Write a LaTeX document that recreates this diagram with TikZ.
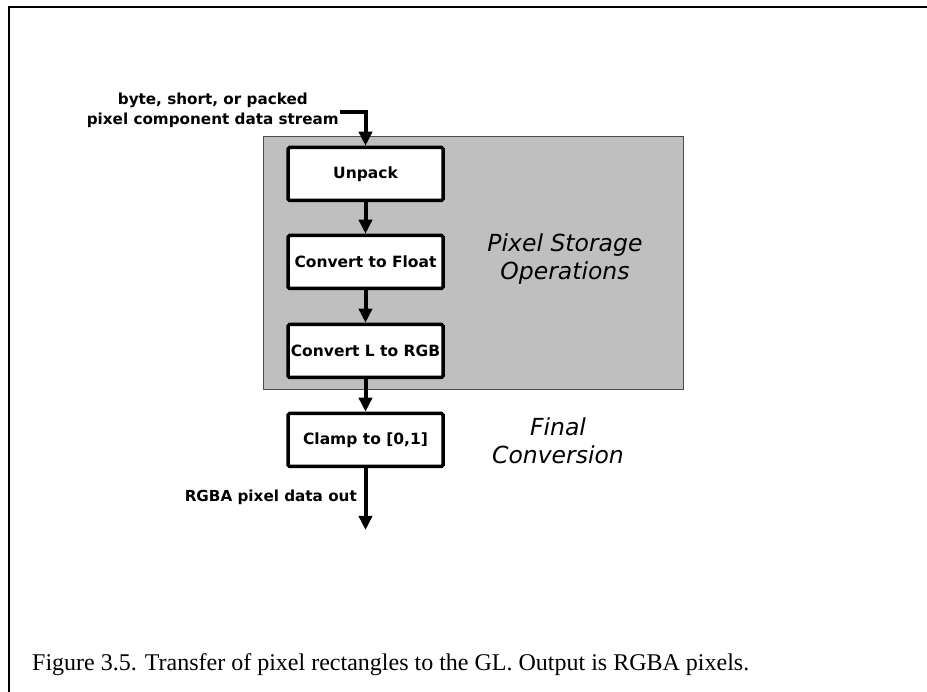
\documentclass[tikz,border=0pt]{standalone}
\usepackage{fontspec}
\setmainfont{Liberation Serif}
\setsansfont{DejaVu Sans}
\usepackage{tikz}
\usetikzlibrary{arrows.meta,positioning}
\colorlet{StoreGray}{black!25}

\tikzset{
  opbox/.style={draw, line width=3.5pt, rounded corners=1.5pt, fill=white,
    minimum width=155pt, minimum height=53pt, inner sep=0pt,
    font=\sffamily\bfseries\fontsize{15.5}{18}\selectfont},
  flow/.style={line width=4pt, -{Triangle[length=14pt,width=13pt]}},
  stagelabel/.style={align=center, font=\sffamily\itshape\fontsize{23.5}{28}\selectfont},
  streamlabel/.style={align=center, inner sep=0pt, font=\sffamily\bfseries\fontsize{15.2}{20}\selectfont},
}

\begin{document}
\begin{tikzpicture}[x=1pt,y=-1pt]
    \useasboundingbox (0,0) rectangle (927,692);
    \draw[line width=1.5pt] (9,692) -- (9,7) -- (927,7);

%   storage stage
    \node[draw=black!70, fill=StoreGray, minimum width=420pt, minimum height=253pt, inner sep=0pt] (storage) at (473,262.5) {};
    \node[stagelabel] (storagetxt) at (565,259) {Pixel Storage\\Operations};
    \node[stagelabel] (finaltxt) at (558,441) {Final\\Conversion};

%   operations
    \node[opbox] (unpack) at (365.5,174) {Unpack};
    \node[opbox] (tofloat) at (365.5,262) {Convert to Float};
    \node[opbox] (lrgb) at (365.5,351) {Convert L to RGB};
    \node[opbox] (clamp) at (365.5,440) {Clamp to [0,1]};

%   stream in and out
    \coordinate (src) at (340,112.5);
    \coordinate (sink) at (365.5,530);
    \node[streamlabel, anchor=north east] (srctxt) at (339,93) {byte, short, or packed\\pixel component data stream};
    \node[streamlabel, anchor=east] (sinktxt) at (357,497) {RGBA pixel data out};

    \draw[flow] (src) -| (unpack.north);
    \draw[flow] (unpack) -- (tofloat);
    \draw[flow] (tofloat) -- (lrgb);
    \draw[flow] (lrgb) -- (clamp);
    \draw[flow] (clamp) -- (sink);

%   caption
    \node[anchor=base west, inner sep=0pt, font=\fontsize{24}{28}\selectfont] (caption) at (32,670) {Figure 3.5. Transfer of pixel rectangles to the GL. Output is RGBA pixels.};
\end{tikzpicture}
\end{document}
